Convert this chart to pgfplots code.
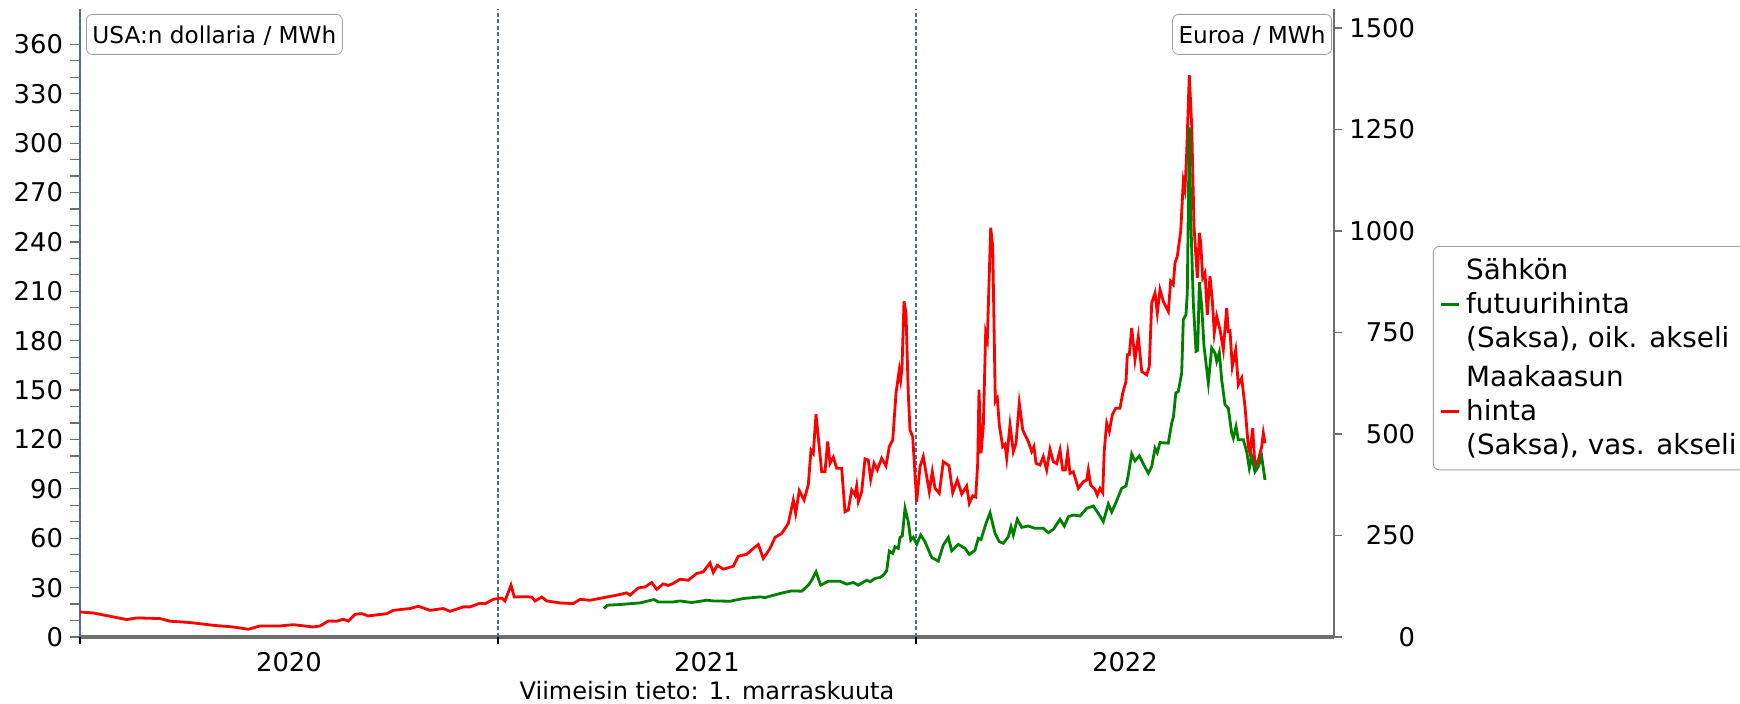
\documentclass[border=0pt]{standalone}
\usepackage{fontspec}
\setmainfont{DejaVu Sans}
\usepackage{pgfplots}
\pgfplotsset{compat=1.18}
\usepackage{pgfplotstable}
\definecolor{gasred}{RGB}{255,0,0}
\definecolor{elgreen}{RGB}{0,128,0}
\definecolor{axgray}{RGB}{110,110,110}
\definecolor{gridblue}{RGB}{74,106,144}
\definecolor{boxgray}{RGB}{160,160,160}

% x = years since 1.1.2020, v = USD/MWh
\pgfplotstableread{
t v
0.0000 15.2
0.0318 14.6
0.0718 12.6
0.1117 10.6
0.1356 11.6
0.1914 11.2
0.2153 9.6
0.2632 8.8
0.3189 7.1
0.3667 6.1
0.4026 4.7
0.4306 6.7
0.4785 6.7
0.5103 7.5
0.5581 6.1
0.5742 6.7
0.5940 9.7
0.6141 9.6
0.6299 10.8
0.6419 9.7
0.6579 13.8
0.6739 14.2
0.6897 12.8
0.7337 14.2
0.7495 16.2
0.7895 17.3
0.8093 18.7
0.8373 16.2
0.8691 17.3
0.8852 15.6
0.9170 18.3
0.9330 18.3
0.9569 20.5
0.9689 20.2
0.9887 22.9
1.0088 23.7
1.0167 21.9
1.0311 31.5
1.0390 24.3
1.0605 24.5
1.0806 24.3
1.0885 21.9
1.1045 24.3
1.1165 21.9
1.1483 20.7
1.1801 20.3
1.1962 22.9
1.2201 22.3
1.2600 24.3
1.2839 25.4
1.3079 26.8
1.3158 25.4
1.3356 29.8
1.3517 30.4
1.3677 33.1
1.3797 29.0
1.3954 32.3
1.4074 31.3
1.4194 32.6
1.4354 35.1
1.4553 34.5
1.4754 38.6
1.4911 39.6
1.5072 45.0
1.5151 39.2
1.5246 43.6
1.5390 41.2
1.5629 43.0
1.5749 49.1
1.5950 50.3
1.6108 53.8
1.6227 56.2
1.6347 47.7
1.6507 53.8
1.6627 60.5
1.6787 62.9
1.6945 69.0
1.7065 83.2
1.7122 75.1
1.7208 88.9
1.7321 83.2
1.7423 92.3
1.7488 113.6
1.7543 111.6
1.7608 135.3
1.7744 100.4
1.7823 100.4
1.7887 118.7
1.7943 105.5
1.8021 109.2
1.8103 102.5
1.8222 102.5
1.8301 76.1
1.8380 77.1
1.8461 89.3
1.8541 86.2
1.8581 91.9
1.8620 82.2
1.8701 88.3
1.8780 108.2
1.8859 107.5
1.8916 95.8
1.8995 105.5
1.9074 101.5
1.9179 108.6
1.9282 104.0
1.9361 115.6
1.9443 119.7
1.9522 148.1
1.9600 162.3
1.9634 156.2
1.9665 163.4
1.9713 203.9
1.9761 196.8
1.9815 148.1
1.9856 125.8
1.9921 121.7
2.0017 82.2
2.0096 103.5
2.0174 109.6
2.0318 88.3
2.0390 100.4
2.0455 90.3
2.0557 87.3
2.0653 106.5
2.0789 104.1
2.0878 87.6
2.0988 95.4
2.1093 86.9
2.1213 91.7
2.1275 81.2
2.1356 85.8
2.1428 85.0
2.1476 105.5
2.1507 150.2
2.1555 111.6
2.1610 127.8
2.1667 184.7
2.1706 180.6
2.1787 248.6
2.1835 237.4
2.1897 143.0
2.1945 145.1
2.1993 128.8
2.2074 115.6
2.2129 117.0
2.2170 108.6
2.2249 128.8
2.2328 112.6
2.2392 117.7
2.2471 142.0
2.2553 125.8
2.2687 118.7
2.2768 112.6
2.2823 115.6
2.2871 105.5
2.2967 104.5
2.3045 109.6
2.3126 101.5
2.3206 114.0
2.3285 106.5
2.3366 105.3
2.3445 113.6
2.3510 101.5
2.3572 101.5
2.3629 112.0
2.3684 99.4
2.3763 100.4
2.3883 90.3
2.4002 94.3
2.4084 95.4
2.4122 101.5
2.4179 92.3
2.4282 89.7
2.4337 86.2
2.4402 90.3
2.4467 87.6
2.4505 113.6
2.4562 129.9
2.4624 124.8
2.4696 135.0
2.4778 139.0
2.4880 139.0
2.4945 148.1
2.5024 155.2
2.5055 171.5
2.5103 171.5
2.5160 187.7
2.5239 168.4
2.5318 182.6
2.5400 161.3
2.5519 159.3
2.5581 164.3
2.5639 202.9
2.5718 209.0
2.5773 196.8
2.5837 211.0
2.5916 203.9
2.6036 197.8
2.6093 216.1
2.6155 214.1
2.6196 227.3
2.6251 231.3
2.6333 246.5
2.6395 276.9
2.6435 271.9
2.6476 294.2
2.6538 341.3
2.6596 310.4
2.6651 249.5
2.6730 218.1
2.6778 245.5
2.6811 239.4
2.6859 218.1
2.6914 221.2
2.6969 195.8
2.7033 219.1
2.7088 204.9
2.7136 184.7
2.7194 194.8
2.7273 186.7
2.7352 174.5
2.7433 199.9
2.7471 185.6
2.7512 186.0
2.7567 164.3
2.7648 174.5
2.7711 153.2
2.7792 157.3
2.7871 140.0
2.7950 115.6
2.7990 111.6
2.8055 126.8
2.8110 103.5
2.8189 107.5
2.8270 115.6
2.8309 123.8
2.8349 117.7
}\gastable

% x = years since 1.1.2020, v = EUR/MWh
\pgfplotstableread{
t v
1.2536 70.1
1.2615 78.3
1.2919 80.0
1.3397 84.0
1.3732 92.3
1.3835 86.4
1.4194 86.4
1.4354 88.9
1.4634 84.9
1.4993 90.6
1.5151 88.9
1.5550 88.1
1.5868 94.8
1.6268 98.8
1.6388 97.1
1.6746 107.2
1.7026 113.6
1.7266 112.8
1.7423 127.7
1.7505 140.0
1.7608 160.5
1.7720 127.7
1.7902 137.5
1.8182 137.5
1.8342 130.1
1.8500 134.3
1.8620 127.7
1.8820 140.0
1.8900 136.0
1.9019 144.2
1.9139 146.7
1.9218 152.3
1.9299 163.0
1.9361 211.6
1.9443 205.9
1.9498 222.2
1.9577 218.3
1.9617 245.4
1.9672 248.6
1.9737 317.0
1.9815 284.0
1.9873 238.8
1.9935 245.4
2.0017 228.9
2.0112 251.1
2.0215 234.6
2.0375 196.0
2.0533 186.9
2.0653 226.4
2.0773 245.4
2.0854 212.3
2.1012 228.1
2.1172 218.3
2.1275 203.5
2.1411 214.0
2.1490 243.0
2.1555 240.0
2.1675 280.0
2.1770 306.2
2.1890 255.3
2.1993 234.6
2.2089 231.0
2.2208 247.0
2.2273 271.6
2.2328 251.1
2.2423 289.9
2.2529 270.1
2.2687 273.4
2.2847 267.7
2.3045 267.7
2.3165 256.8
2.3285 265.0
2.3445 289.9
2.3548 273.4
2.3644 296.3
2.3763 300.5
2.3923 298.0
2.4084 317.0
2.4242 322.7
2.4361 304.7
2.4481 284.0
2.4600 327.7
2.4682 308.0
2.4801 335.8
2.4921 366.4
2.5024 372.0
2.5079 399.3
2.5160 451.1
2.5239 433.8
2.5342 446.2
2.5438 426.4
2.5557 403.5
2.5639 419.8
2.5718 465.2
2.5773 454.3
2.5837 479.0
2.6036 477.5
2.6117 526.9
2.6160 543.2
2.6215 601.0
2.6275 605.0
2.6356 650.4
2.6395 782.0
2.6459 794.3
2.6490 847.9
2.6538 1255.3
2.6579 1012.3
2.6634 823.2
2.6699 703.7
2.6739 706.0
2.6778 874.0
2.6835 814.8
2.6890 716.0
2.6993 625.7
2.7074 712.0
2.7153 699.7
2.7194 679.0
2.7256 701.2
2.7313 633.8
2.7392 572.1
2.7471 563.9
2.7553 502.2
2.7591 489.9
2.7656 518.5
2.7711 485.7
2.7831 485.7
2.7911 456.8
2.7974 415.8
2.8031 444.4
2.8110 407.4
2.8189 419.8
2.8270 444.4
2.8349 386.9
}\eltable

\begin{document}
\begin{tikzpicture}
\useasboundingbox (-40pt,-33pt) rectangle (830pt,318.5pt);
\begin{axis}[
  at={(0pt,0pt)}, anchor=south west,
  scale only axis, width=627pt, height=314pt,
  xmin=0, xmax=3, ymin=0, ymax=381.5,
  axis x line*=bottom, axis y line*=left,
  x axis line style={axgray, line width=1.6pt},
  y axis line style={axgray, line width=1pt},
  xtick={0.5,1.5,2.5}, xticklabels={2020,2021,2022},
  x tick style={draw=none},
  extra x ticks={0,1,2}, extra x tick labels={},
  extra x tick style={grid=major, major tick length=3.5pt,
    x tick style={draw=black, line width=0.6pt}},
  major grid style={gridblue, line width=0.6pt, dash pattern=on 2pt off 1.3pt},
  ytick={0,30,...,360},
  minor y tick num=2,
  tick align=outside,
  major tick length=5pt, minor tick length=5pt,
  y tick style={axgray, line width=0.6pt},
  tick label style={font=\fontsize{12.9}{15}\selectfont},
  xticklabel style={yshift=1pt},
  /pgf/number format/assume math mode=true,
  /pgf/number format/1000 sep={},
]
\addplot[gasred, line width=1.4pt] table[x=t, y=v] {\gastable};
\end{axis}
\begin{axis}[
  at={(0pt,0pt)}, anchor=south west,
  scale only axis, width=627pt, height=314pt,
  xmin=0, xmax=3, ymin=0, ymax=1547,
  axis x line=none, axis y line*=right,
  y axis line style={axgray, line width=1pt},
  ytick={0,250,...,1500},
  tick align=outside, major tick length=4pt,
  y tick style={axgray, line width=0.6pt},
  tick label style={font=\fontsize{12.9}{15}\selectfont},
  yticklabel style={text width=33pt, align=right},
  /pgf/number format/assume math mode=true,
  /pgf/number format/1000 sep={},
  legend style={at={(1.0789,0.6226)}, anchor=north west,
    draw=boxgray, rounded corners=3pt, inner xsep=3pt, inner ysep=4.5pt,
    font=\fontsize{13.9}{17}\selectfont,
    row sep=4.6pt, column sep=1.5pt,
    nodes={inner xsep=1.5pt, inner ysep=1.5pt},
    cells={align=left}},
  legend cell align=left,
  legend image code/.code={\draw[#1] (0pt,0pt) -- (9pt,0pt);},
]
\addplot[elgreen, line width=1.4pt] table[x=t, y=v] {\eltable};
\addlegendentry{Sähkön\\futuurihinta\\(Saksa), oik. akseli}
\addlegendimage{gasred, line width=1.4pt}
\addlegendentry{Maakaasun\\hinta\\(Saksa), vas. akseli}
\end{axis}
\node[draw=boxgray, rounded corners=3pt, anchor=north west, fill=white,
  font=\fontsize{11.6}{14}\selectfont, inner xsep=3pt, inner ysep=4pt,
  text height=10.5pt, text depth=1.5pt] at (3pt,311.5pt) {USA:n dollaria / MWh};
\node[draw=boxgray, rounded corners=3pt, anchor=north east, fill=white,
  font=\fontsize{11.6}{14}\selectfont, inner xsep=3pt, inner ysep=4pt,
  text height=10.5pt, text depth=1.5pt] at (626pt,311.5pt) {Euroa / MWh};
\node[anchor=base, font=\fontsize{12}{14}\selectfont] at (313.5pt,-31pt) {Viimeisin tieto: 1. marraskuuta};
\end{tikzpicture}
\end{document}
